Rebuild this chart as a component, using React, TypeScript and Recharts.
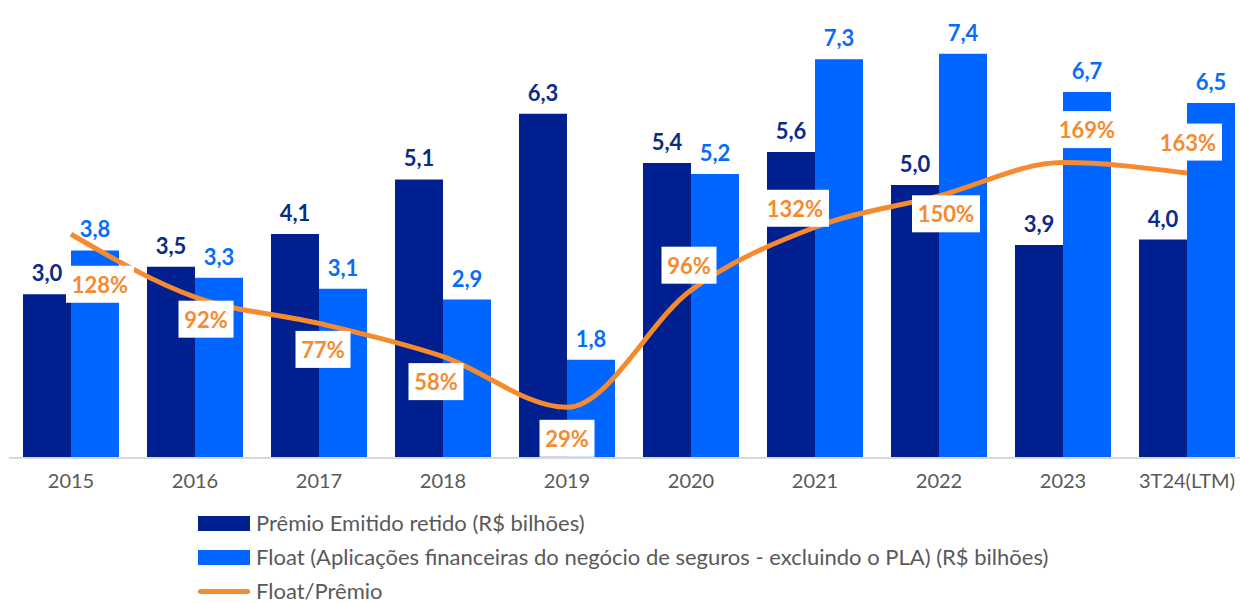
import React from 'react';
import { ComposedChart, Bar, Line, XAxis, YAxis, LabelList } from 'recharts';

const categories = ['2015', '2016', '2017', '2018', '2019', '2020', '2021', '2022', '2023', '3T24(LTM)'];
const premio = [3.0, 3.5, 4.1, 5.1, 6.3, 5.4, 5.6, 5.0, 3.9, 4.0];
const floatValues = [3.8, 3.3, 3.1, 2.9, 1.8, 5.2, 7.3, 7.4, 6.7, 6.5];
const ratio = [128, 92, 77, 58, 29, 96, 132, 150, 169, 163];

// where each % box sits relative to its point (label centre minus point)
const ratioLabelOffsets: [number, number][] = [
  [29, 50], [11, 22], [4, 26], [-7, 25], [0, 31],
  [-2, -25], [-20, -19], [7, 18], [24, -33], [1, -31],
];

const DARK = '#00208F';
const BLUE = '#0066FF';
const ORANGE = '#F58A2F';
const FONT = 'Lato, "Open Sans", sans-serif';

const data = categories.map((name, i) => ({
  name,
  premio: premio[i],
  float: floatValues[i],
  ratio: ratio[i],
}));

const fmt = (v: number) => v.toFixed(1).replace('.', ',');

function RatioLabel(props: any) {
  const { x, y, value, index } = props;
  const [dx, dy] = ratioLabelOffsets[index] || [0, 0];
  const text = `${value}%`;
  const w = text.length * 13 + 16;
  const h = 37;
  const cx = x + dx;
  const cy = y + dy;
  return (
    <g>
      <rect x={cx - w / 2} y={cy - h / 2} width={w} height={h} fill="#fff" />
      <text
        x={cx}
        y={cy}
        textAnchor="middle"
        dominantBaseline="central"
        fill={ORANGE}
        fontFamily={FONT}
        fontWeight={700}
        fontSize={22}
      >
        {text}
      </text>
    </g>
  );
}

function LegendRow({ kind, color, label }: { kind: 'bar' | 'line'; color: string; label: string }) {
  return (
    <div style={{ display: 'flex', alignItems: 'center', height: 34 }}>
      {kind === 'bar' ? (
        <div style={{ width: 52, height: 15, background: color }} />
      ) : (
        <div style={{ width: 52, height: 5, background: color, borderRadius: 3 }} />
      )}
      <span style={{ marginLeft: 6, fontSize: 22, lineHeight: '22px', color: '#595959', fontFamily: FONT }}>
        {label}
      </span>
    </div>
  );
}

export default function App() {
  return (
    <div style={{ position: 'absolute', left: 0, top: 0, width: 1240, height: 603, overflow: 'hidden', background: '#fff' }}>
      <ComposedChart
        width={1250}
        height={603}
        data={data}
        margin={{ top: 21, right: 1, bottom: 105, left: 9 }}
        barCategoryGap={28}
        barGap={0}
      >
        <XAxis
          dataKey="name"
          tickLine={false}
          axisLine={{ stroke: '#D9D9D9', strokeWidth: 2 }}
          tick={{ fill: '#595959', fontSize: 20, fontFamily: FONT }}
          tickMargin={10}
          height={40}
          interval={0}
        />
        <YAxis yAxisId="left" hide domain={[0, 8]} />
        <YAxis yAxisId="right" hide orientation="right" domain={[0, 250]} />
        <Bar yAxisId="left" dataKey="premio" fill={DARK} barSize={48} isAnimationActive={false}>
          <LabelList
            dataKey="premio"
            position="top"
            offset={13}
            formatter={(v: any) => fmt(Number(v))}
            style={{ fill: '#0B2A8A', fontSize: 22, fontWeight: 700, fontFamily: FONT }}
          />
        </Bar>
        <Bar yAxisId="left" dataKey="float" fill={BLUE} barSize={48} isAnimationActive={false}>
          <LabelList
            dataKey="float"
            position="top"
            offset={13}
            formatter={(v: any) => fmt(Number(v))}
            style={{ fill: '#0A6CF5', fontSize: 22, fontWeight: 700, fontFamily: FONT }}
          />
        </Bar>
        <Line
          yAxisId="right"
          dataKey="ratio"
          type="monotone"
          stroke={ORANGE}
          strokeWidth={5}
          dot={false}
          isAnimationActive={false}
        >
          <LabelList dataKey="ratio" content={RatioLabel} />
        </Line>
      </ComposedChart>
      <div style={{ position: 'absolute', left: 198, top: 506 }}>
        <LegendRow kind="bar" color={DARK} label="Prêmio Emitido retido (R$ bilhões)" />
        <LegendRow kind="bar" color={BLUE} label="Float (Aplicações financeiras do negócio de seguros - excluindo o PLA) (R$ bilhões)" />
        <LegendRow kind="line" color={ORANGE} label="Float/Prêmio" />
      </div>
    </div>
  );
}
